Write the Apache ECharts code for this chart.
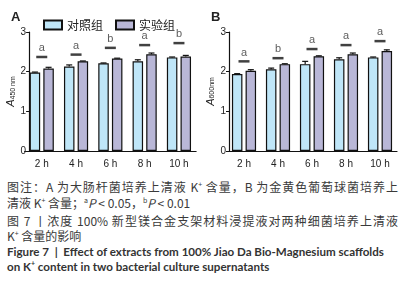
<!DOCTYPE html>
<html>
<head>
<meta charset="utf-8">
<script src="https://cdn.jsdelivr.net/npm/echarts@6/dist/echarts.min.js"></script>
<style>
  body { margin: 0; background: #fff; }
  #wrap { position: relative; width: 407px; height: 293px; overflow: hidden; }
  #chart { position: absolute; left: 0; top: 0; width: 407px; height: 172px; }
  .ln { position: absolute; left: 7px; width: 391px; height: 16px; line-height: 16px; font-size: 12px;
        font-family: "Noto Sans CJK SC", "Noto Sans", sans-serif; color: #3a3a3a; white-space: nowrap; }
  .just { text-align: justify; text-align-last: justify; white-space: normal; }
  .en { font-family: Lato, "Open Sans", sans-serif; font-weight: bold; font-size: 11.6px; color: #333; }
  sup { font-size: 7px; vertical-align: 5px; line-height: 0; }
</style>
</head>
<body>
<div id="wrap">
  <div id="chart"></div>
  <div class="ln just" style="top:179px">图注：A 为大肠杆菌培养上清液 K<sup>+</sup> 含量，B 为金黄色葡萄球菌培养上</div>
  <div class="ln" style="top:195px">清液 K<sup>+</sup> 含量；<sup>a</sup><i>P</i> &lt; 0.05，<sup>b</sup><i>P</i> &lt; 0.01</div>
  <div class="ln just" style="top:213px">图 7 丨浓度 100% 新型镁合金支架材料浸提液对两种细菌培养上清液</div>
  <div class="ln" style="top:228px">K<sup>+</sup> 含量的影响</div>
  <div class="ln en" style="top:244px">Figure 7 &nbsp;|&nbsp; Effect of extracts from 100% Jiao Da Bio-Magnesium scaffolds</div>
  <div class="ln en" style="top:259px">on K<sup>+</sup> content in two bacterial culture supernatants</div>
</div>
<script>
var hours = ['2 h', '4 h', '6 h', '8 h', '10 h'];

// panel A
var ctrlA = [1.98, 2.13, 2.21, 2.26, 2.36];
var expA = [2.08, 2.26, 2.33, 2.44, 2.38];
var ctrlErrA = [0.01, 0.04, 0.01, 0.04, 0.01];
var expErrA = [0.03, 0.01, 0.01, 0.03, 0.03];
var sigPosA = [2.37, 2.43, 2.60, 2.67, 2.72];
var sigA = ['a', 'a', 'b', 'a', 'b'];

// panel B
var ctrlB = [1.94, 2.06, 2.19, 2.31, 2.36];
var expB = [2.02, 2.19, 2.39, 2.44, 2.52];
var ctrlErrB = [0.01, 0.03, 0.07, 0.04, 0.01];
var expErrB = [0.03, 0.01, 0.01, 0.03, 0.03];
var sigPosB = [2.26, 2.34, 2.57, 2.67, 2.77];
var sigB = ['a', 'b', 'a', 'a', 'a'];

var BW = 10.5, GAP = 0.3;
var ctrlColor = '#bfe6f8', expColor = '#b9b7d7';
var myChart = echarts.init(document.getElementById('chart'));

function errItem(side) {
    return function (params, api) {
        var m = api.value(1), e = api.value(2);
        var p0 = api.coord([api.value(0), m]);
        var p1 = api.coord([api.value(0), m + e]);
        var cx = p0[0] + side * (BW + BW * GAP) / 2;
        var st = { stroke: '#111', lineWidth: 1.2 };
        return {
            type: 'group',
            children: [
                { type: 'line', shape: { x1: cx, y1: p0[1], x2: cx, y2: p1[1] }, style: st },
                { type: 'line', shape: { x1: cx - 3, y1: p1[1], x2: cx + 3, y2: p1[1] }, style: st }
            ]
        };
    };
}

function panelSeries(idx, ctrl, exp, ctrlErr, expErr, sigPos, sig) {
    var barStyle = function (c) {
        return { color: c, borderColor: '#111', borderWidth: 1.2 };
    };
    return [
        { name: '对照组', type: 'bar', xAxisIndex: idx, yAxisIndex: idx, data: ctrl,
          barWidth: BW, barGap: '30%', itemStyle: barStyle(ctrlColor) },
        { name: '实验组', type: 'bar', xAxisIndex: idx, yAxisIndex: idx, data: exp,
          barWidth: BW, barGap: '30%', itemStyle: barStyle(expColor) },
        { type: 'custom', xAxisIndex: idx, yAxisIndex: idx, z: 5, renderItem: errItem(-1),
          encode: { x: 0, y: 1 }, data: ctrl.map(function (v, i) { return [i, v, ctrlErr[i]]; }) },
        { type: 'custom', xAxisIndex: idx, yAxisIndex: idx, z: 5, renderItem: errItem(1),
          encode: { x: 0, y: 1 }, data: exp.map(function (v, i) { return [i, v, expErr[i]]; }) },
        { type: 'scatter', xAxisIndex: idx, yAxisIndex: idx, symbol: 'rect', symbolSize: [11, 2.5],
          itemStyle: { color: '#111' },
          label: { show: true, position: 'top', distance: 2, fontSize: 11, color: '#333',
                   fontFamily: 'Liberation Sans',
                   formatter: function (p) { return sig[p.dataIndex]; } },
          data: sigPos.map(function (v, i) { return [i, v]; }) }
    ];
}

function xAx(idx) {
    return {
        type: 'category', gridIndex: idx, data: hours,
        axisLine: { lineStyle: { color: '#111', width: 1.2 } },
        axisTick: { alignWithLabel: true, length: 3, lineStyle: { color: '#111' } },
        axisLabel: { fontSize: 10, color: '#222', margin: 8, fontFamily: 'Liberation Sans' }
    };
}

function yAx(idx, sub, off) {
    return {
        type: 'value', gridIndex: idx, min: 0, max: 3, interval: 1, offset: off,
        name: '{a|A}{s|' + sub + '}', nameLocation: 'middle', nameGap: 13, nameRotate: 90,
        nameTextStyle: {
            rich: {
                a: { fontSize: 11, fontStyle: 'italic', color: '#222', fontFamily: 'Liberation Sans' },
                s: { fontSize: 7, color: '#222', fontFamily: 'Liberation Sans', padding: [4, 0, 0, 0] }
            }
        },
        axisLine: { show: true, lineStyle: { color: '#111', width: 1.2 } },
        axisTick: { show: true, length: 3, lineStyle: { color: '#111' } },
        axisLabel: { fontSize: 10, color: '#222', margin: 3, fontFamily: 'Liberation Sans' },
        splitLine: { show: false }
    };
}

var option = {
    animation: false,
    title: [
        { text: 'A', left: 6, top: 6, textStyle: { fontSize: 13, fontWeight: 'bold', color: '#222', fontFamily: 'Liberation Sans' } },
        { text: 'B', left: 206, top: 6, textStyle: { fontSize: 13, fontWeight: 'bold', color: '#222', fontFamily: 'Liberation Sans' } }
    ],
    legend: {
        data: ['对照组', '实验组'], left: 38, top: 14, icon: 'rect',
        itemWidth: 18, itemHeight: 9, itemGap: 12,
        textStyle: { fontSize: 12, color: '#222', fontFamily: 'Noto Sans CJK SC' }
    },
    grid: [
        { left: 24.6, top: 32, width: 171.5, height: 119 },
        { left: 227, top: 32, width: 170, height: 119 }
    ],
    xAxis: [xAx(0), xAx(1)],
    yAxis: [yAx(0, '450 nm', -4.5), yAx(1, '600nm', -2)],
    series: panelSeries(0, ctrlA, expA, ctrlErrA, expErrA, sigPosA, sigA)
        .concat(panelSeries(1, ctrlB, expB, ctrlErrB, expErrB, sigPosB, sigB))
};

option && myChart.setOption(option);
</script>
</body>
</html>
